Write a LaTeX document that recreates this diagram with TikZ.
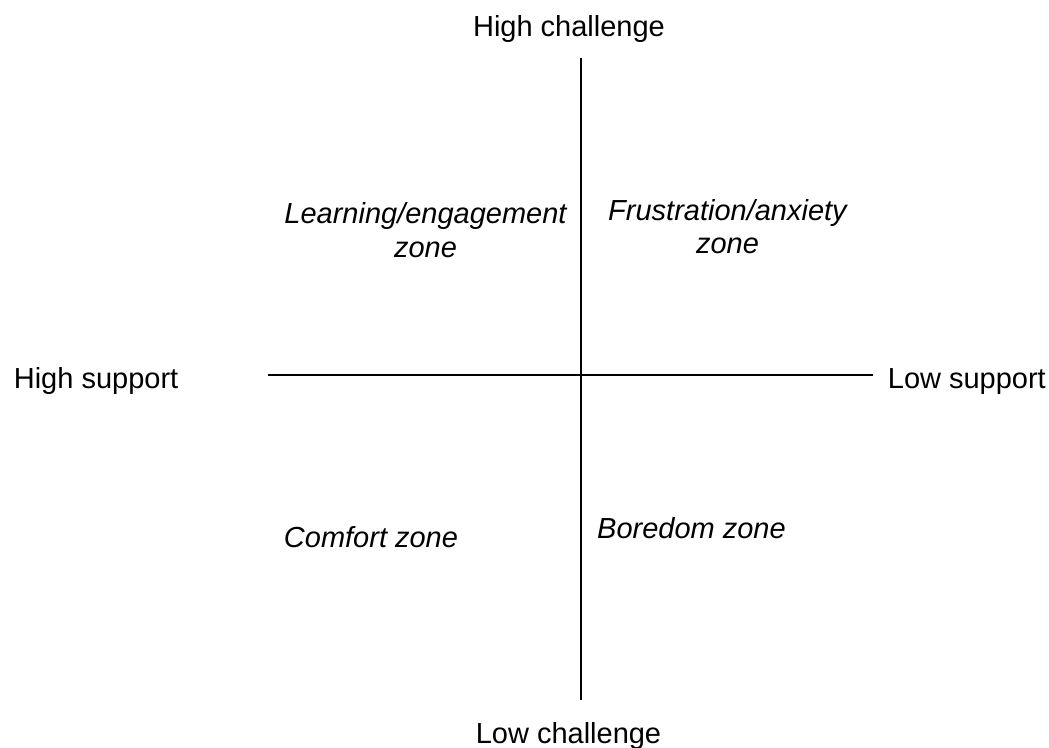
\documentclass[tikz,border=0pt]{standalone}
\usepackage{fontspec}
\setmainfont{Liberation Sans}
\usetikzlibrary{positioning}

\begin{document}
\begin{tikzpicture}[line width=1pt,
    axislabel/.style={inner sep=0pt, anchor=base, font=\fontsize{16.5}{18.8}\selectfont},
    zonelabel/.style={axislabel, align=center, font=\fontsize{16.5}{18.8}\selectfont\itshape}]
    \pgfmathsetmacro{\up}{6.34}
    \pgfmathsetmacro{\down}{6.5}
    \pgfmathsetmacro{\lft}{6.26}
    \pgfmathsetmacro{\rgt}{5.84}

    \useasboundingbox (-11.62,-7.44) rectangle (9.36,7.5);
    \coordinate (O) at (0,0);
    \coordinate (N) at (0,\up);
    \coordinate (S) at (0,-\down);
    \coordinate (W) at (-\lft,0);
    \coordinate (E) at (\rgt,0);
    % axes
    \draw (S) -- (N);
    \draw (W) -- (E);
    % axis ends
    \node[axislabel] (hichal) at (-0.24,6.78) {High challenge};
    \node[axislabel] (lochal) at (-0.25,-7.36) {Low challenge};
    \node[axislabel, anchor=base west] (hisup) at (-11.36,-0.26) {High support};
    \node[axislabel, anchor=base west] (losup) at (6.12,-0.26) {Low support};
    % quadrants (base = last line)
    \node[zonelabel] (learn) at (-3.11,2.36) {Learning/engagement\\zone};
    \node[zonelabel] (frust) at (2.93,2.43) {Frustration/anxiety\\zone};
    \node[zonelabel] (comfort) at (-4.2,-3.44) {Comfort zone};
    \node[zonelabel] (bored) at (2.21,-3.26) {Boredom zone};
\end{tikzpicture}
\end{document}
